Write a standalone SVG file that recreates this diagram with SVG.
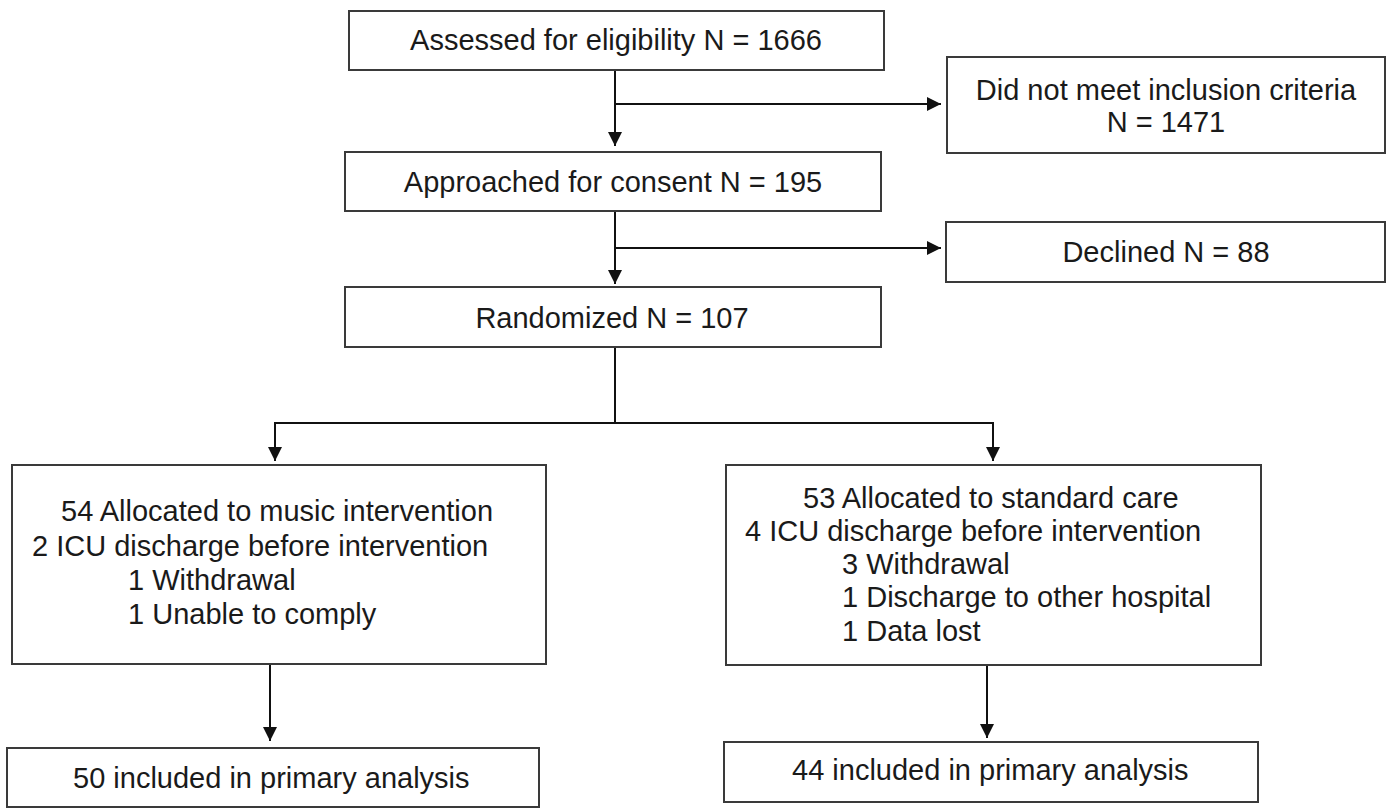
<svg xmlns="http://www.w3.org/2000/svg" width="1388" height="808" viewBox="0 0 1388 808">
<style>
.box{fill:#ffffff;stroke:#3a3a3a;stroke-width:2}
.t{font-family:"Liberation Sans",Arial,sans-serif;font-size:29px;fill:#1a1a1a}
.c{text-anchor:middle}
.ln{stroke:#111;stroke-width:2;fill:none}
.arr{marker-end:url(#ah)}
</style>
<defs>
<marker id="ah" markerUnits="userSpaceOnUse" markerWidth="16" markerHeight="16" refX="14" refY="7" orient="auto">
<path d="M0,0 L14,7 L0,14 z" fill="#111"/>
</marker>
</defs>
<rect width="1388" height="808" fill="#ffffff"/>
<g id="connectors">
<line class="ln arr" x1="615" y1="70" x2="615" y2="146"/>
<line class="ln arr" x1="615" y1="104" x2="941" y2="104"/>
<line class="ln arr" x1="615" y1="211" x2="615" y2="284"/>
<line class="ln arr" x1="615" y1="248" x2="941" y2="248"/>
<line class="ln" x1="615" y1="347" x2="615" y2="423"/>
<line class="ln" x1="274" y1="423" x2="994" y2="423"/>
<line class="ln arr" x1="275" y1="423" x2="275" y2="461"/>
<line class="ln arr" x1="993" y1="423" x2="993" y2="461"/>
<line class="ln arr" x1="270" y1="664" x2="270" y2="741"/>
<line class="ln arr" x1="987" y1="665" x2="987" y2="738"/>
</g>
<g id="assessed">
<rect class="box" x="349" y="11" width="535" height="59"/>
<text class="t c" x="616" y="50">Assessed for eligibility N = 1666</text>
</g>
<g id="not-eligible">
<rect class="box" x="947" y="57" width="438" height="96"/>
<text class="t c" x="1166" y="100">Did not meet inclusion criteria</text>
<text class="t c" x="1166" y="132">N = 1471</text>
</g>
<g id="approached">
<rect class="box" x="345" y="152" width="536" height="59"/>
<text class="t c" x="613" y="192">Approached for consent N = 195</text>
</g>
<g id="declined">
<rect class="box" x="946" y="222" width="439" height="60"/>
<text class="t c" x="1166" y="262">Declined N = 88</text>
</g>
<g id="randomized">
<rect class="box" x="345" y="287" width="536" height="60"/>
<text class="t c" x="612" y="328">Randomized N = 107</text>
</g>
<g id="music">
<rect class="box" x="12" y="465" width="534" height="199"/>
<text class="t" x="61" y="521">54 Allocated to music intervention</text>
<text class="t" x="32" y="556">2 ICU discharge before intervention</text>
<text class="t" x="128" y="590">1 Withdrawal</text>
<text class="t" x="128" y="624">1 Unable to comply</text>
</g>
<g id="standard">
<rect class="box" x="726" y="465" width="535" height="200"/>
<text class="t" x="803" y="508">53 Allocated to standard care</text>
<text class="t" x="745" y="541">4 ICU discharge before intervention</text>
<text class="t" x="842" y="574">3 Withdrawal</text>
<text class="t" x="842" y="607">1 Discharge to other hospital</text>
<text class="t" x="842" y="641">1 Data lost</text>
</g>
<g id="music-analysis">
<rect class="box" x="7" y="748" width="532" height="59"/>
<text class="t" x="73" y="788">50 included in primary analysis</text>
</g>
<g id="standard-analysis">
<rect class="box" x="724" y="742" width="534" height="60"/>
<text class="t" x="792" y="780">44 included in primary analysis</text>
</g>
</svg>
